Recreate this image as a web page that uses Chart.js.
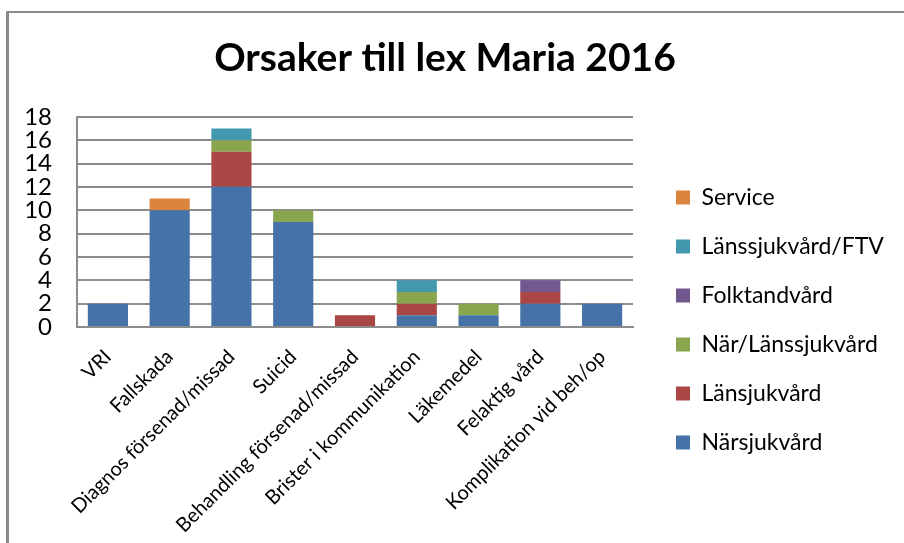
<!DOCTYPE html>
<html>
<head>
<meta charset="utf-8">
<script src="https://cdn.jsdelivr.net/npm/chart.js@4"></script>
<style>
  html, body { margin: 0; padding: 0; background: #fff; overflow: hidden; }
  #frame {
    position: absolute; left: 6px; top: 11px; width: 910px; height: 560px;
    border-top: 2px solid #8a8a8a; border-left: 3px solid #8a8a8a;
  }
  #lexChart { position: absolute; left: 0; top: 0; }
</style>
</head>
<body>
<div id="frame"></div>
<canvas id="lexChart" width="904" height="640"></canvas>
<script>
const categories = [
  'VRI', 'Fallskada', 'Diagnos försenad/missad', 'Suicid',
  'Behandling försenad/missad', 'Brister i kommunikation',
  'Läkemedel', 'Felaktig vård', 'Komplikation vid beh/op'
];
const narsjukvard    = [2, 10, 12, 9, 0, 1, 1, 2, 2];
const lansjukvard    = [0, 0, 3, 0, 1, 1, 0, 1, 0];
const narLans        = [0, 0, 1, 1, 0, 1, 1, 0, 0];
const folktandvard   = [0, 0, 0, 0, 0, 0, 0, 1, 0];
const lansFtv        = [0, 0, 1, 0, 0, 1, 0, 0, 0];
const service        = [0, 1, 0, 0, 0, 0, 0, 0, 0];
const yTicks = [0, 2, 4, 6, 8, 10, 12, 14, 16, 18];

const gridColor = '#8c8c8c';
const font = 'Lato, "Open Sans", sans-serif';

function series(label, data, color) {
  return { label: label, data: data, backgroundColor: color, borderWidth: 0 };
}

let lexChart;

function createChart() {
  const ctx = document.getElementById('lexChart').getContext('2d');
  lexChart = new Chart(ctx, {
    type: 'bar',
    data: {
      labels: categories,
      datasets: [
        series('Närsjukvård', narsjukvard, '#4572A7'),
        series('Länsjukvård', lansjukvard, '#AA4643'),
        series('När/Länssjukvård', narLans, '#89A54E'),
        series('Folktandvård', folktandvard, '#71588F'),
        series('Länssjukvård/FTV', lansFtv, '#4198AF'),
        series('Service', service, '#DB843D')
      ]
    },
    options: {
      responsive: false,
      animation: false,
      devicePixelRatio: 1,
      datasets: { bar: { barPercentage: 0.65, categoryPercentage: 1 } },
      layout: { padding: { left: 0, right: 14, top: 0, bottom: 0 } },
      plugins: {
        title: {
          display: true,
          text: 'Orsaker till lex Maria 2016',
          color: '#000',
          font: { family: font, size: 39, weight: 'bold' },
          padding: { top: 35, bottom: 35 }
        },
        legend: {
          position: 'right',
          reverse: true,
          maxWidth: 240,
          labels: {
            boxWidth: 14,
            boxHeight: 14,
            padding: 26,
            color: '#000',
            font: { family: font, size: 23 }
          }
        },
        tooltip: { enabled: false }
      },
      scales: {
        x: {
          stacked: true,
          grid: { display: false },
          border: { display: true, color: gridColor, width: 2 },
          ticks: {
            color: '#000',
            font: { family: font, size: 20 },
            maxRotation: 45,
            minRotation: 45,
            autoSkip: false,
            padding: 10
          },
          afterFit: function(scale) { scale.height = 313; }
        },
        y: {
          stacked: true,
          min: 0,
          max: 18,
          afterBuildTicks: function(scale) {
            scale.ticks = yTicks.map(v => ({ value: v }));
          },
          grid: { color: gridColor, lineWidth: 2, drawTicks: false },
          border: { display: true, color: gridColor, width: 2 },
          ticks: {
            color: '#000',
            font: { family: font, size: 24 },
            padding: 25,
            autoSkip: false
          },
          afterFit: function(scale) { scale.width = 77; }
        },
        // empty right axis, only keeps a gap between plot and legend
        gap: {
          position: 'right',
          grid: { display: false, drawTicks: false },
          border: { display: false },
          ticks: { display: false },
          afterFit: function(scale) { scale.width = 17; }
        }
      }
    }
  });
}

document.addEventListener('DOMContentLoaded', () => {
  Promise.all([
    document.fonts.load('24px Lato'),
    document.fonts.load('bold 39px Lato')
  ]).catch(() => {}).then(createChart);
});
</script>
</body>
</html>
